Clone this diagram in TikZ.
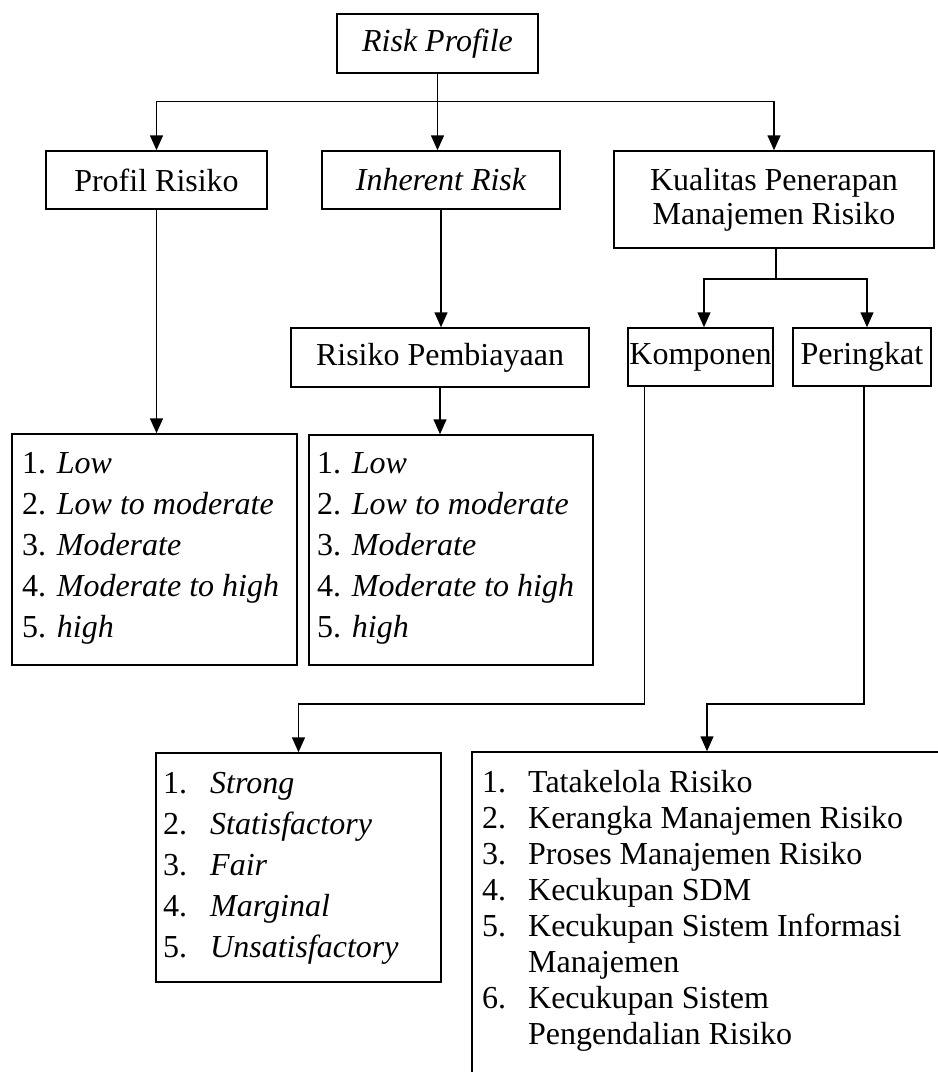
\documentclass[tikz,border=0pt]{standalone}
\usepackage{fontspec}
\setmainfont{Liberation Serif}
\usetikzlibrary{arrows.meta}
\begin{document}
\begin{tikzpicture}[x=1pt,y=-1pt,
  box/.style={draw, line width=1.5pt, inner sep=0pt, align=center, font=\fontsize{32}{34}\selectfont},
  txt/.style={inner sep=0pt, anchor=base west},
  arr/.style={line width=1.5pt, -{Triangle[length=15pt,width=13pt]}},
  ln/.style={line width=1.5pt}]
\useasboundingbox (0,0) rectangle (938,1072);
\clip (0,0) rectangle (938,1072);
% boxes
\node[box, minimum width=201pt, minimum height=59pt] (rp) at (437.5,43.5) {\itshape Risk Profile};
\node[box, minimum width=221pt, minimum height=58pt] (pr) at (156.5,180) {Profil Risiko};
\node[box, minimum width=238pt, minimum height=58pt] (ir) at (441,180) {\itshape Inherent Risk};
\node[box, minimum width=320pt, minimum height=97pt] (kq) at (774,199.5) {Kualitas Penerapan\\Manajemen Risiko};
\node[box, minimum width=298pt, minimum height=59pt] (rpb) at (440,357.5) {Risiko Pembiayaan};
\node[box, minimum width=145pt, minimum height=58pt] (ko) at (700.5,357) {Komponen};
\node[box, minimum width=138pt, minimum height=58pt] (pe) at (862,357) {Peringkat};
\node[box, minimum width=285pt, minimum height=231pt] (l1) at (154.5,549.5) {};
\node[box, minimum width=284pt, minimum height=230pt] (l2) at (451,550) {};
\node[box, minimum width=285pt, minimum height=229pt] (l3) at (298.5,867.5) {};
\node[box, minimum width=470pt, minimum height=338pt] (l4) at (707,921) {};
% list texts
\node[txt, font=\fontsize{32}{41}\selectfont] (t1) at (22,473) {\begin{tabular}[t]{@{}l@{}}
1. \textit{Low}\\ 2. \textit{Low to moderate}\\ 3. \textit{Moderate}\\ 4. \textit{Moderate to high}\\ 5. \textit{high}
\end{tabular}};
\node[txt, font=\fontsize{32}{41}\selectfont] (t2) at (317,473) {\begin{tabular}[t]{@{}l@{}}
1. \textit{Low}\\ 2. \textit{Low to moderate}\\ 3. \textit{Moderate}\\ 4. \textit{Moderate to high}\\ 5. \textit{high}
\end{tabular}};
\node[txt, font=\fontsize{32}{41}\selectfont] (t3) at (163,793) {\begin{tabular}[t]{@{}l@{\hspace{23pt}}l@{}}
1. & \textit{Strong}\\ 2. & \textit{Statisfactory}\\ 3. & \textit{Fair}\\ 4. & \textit{Marginal}\\ 5. & \textit{Unsatisfactory}
\end{tabular}};
\node[txt, font=\fontsize{32}{36}\selectfont] (t4) at (482,792) {\begin{tabular}[t]{@{}l@{\hspace{22pt}}l@{}}
1. & Tatakelola Risiko\\ 2. & Kerangka Manajemen Risiko\\ 3. & Proses Manajemen Risiko\\ 4. & Kecukupan SDM\\
5. & Kecukupan Sistem Informasi\\ & Manajemen\\ 6. & Kecukupan Sistem\\ & Pengendalian Risiko
\end{tabular}};
% connectors
\draw[arr] (rp.south) -- ++(0,27.5) -| (pr.north);
\draw[arr] (rp.south) -- (rp.south |- ir.north);
\draw[arr] (rp.south) -- ++(0,27.5) -| (kq.north);
\draw[arr] (pr.south) -- (pr.south |- l1.north);
\draw[arr] (ir.south) -- (ir.south |- rpb.north);
\draw[arr] (rpb.south) -- (rpb.south |- l2.north);
\draw[arr] ([xshift=2pt]kq.south) -- ++(0,30) -| ([xshift=3.5pt]ko.north);
\draw[arr] ([xshift=2pt]kq.south) -- ++(0,30) -| ([xshift=5pt]pe.north);
\draw[arr] ([xshift=-56pt]ko.south) -- ++(0,317) -| (l3.north);
\draw[arr] ([xshift=2pt]pe.south) -- ++(0,317) -| (l4.north);
\end{tikzpicture}
\end{document}
